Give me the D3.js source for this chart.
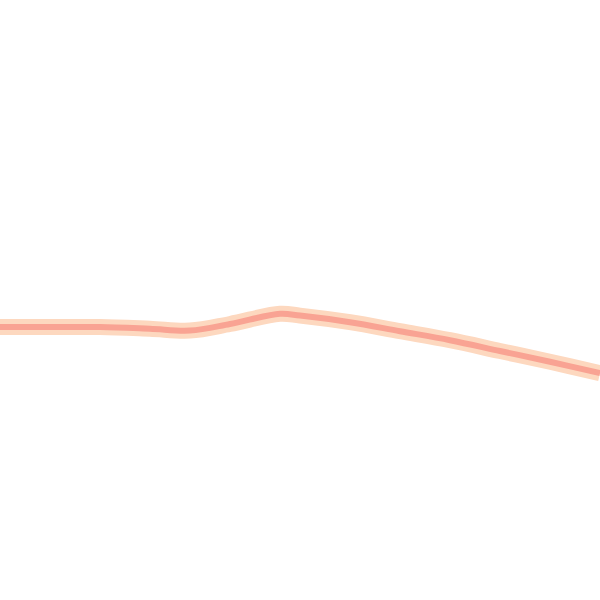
<!DOCTYPE html>
<html>
<head>
<meta charset="utf-8">
<script src="https://cdn.jsdelivr.net/npm/d3@7"></script>
<style>
  html, body { margin: 0; padding: 0; background: #fff; }
  svg { display: block; }
</style>
</head>
<body>
<svg></svg>
<script>
const width = 600;
const height = 600;

// x positions (0..12) and line level
const steps = [0, 1, 2, 3, 3.8, 4.6, 5.6, 6, 7, 8, 9, 10, 11, 12];
const levels = [45.5, 45.5, 45.5, 45.2, 44.9, 46.0, 47.7, 47.4, 46.3, 44.8, 43.3, 41.5, 39.7, 37.8];

const svg = d3.select("svg")
    .attr("width", width)
    .attr("height", height);

const x = d3.scaleLinear().domain([0, 12]).range([0, width]);
const y = d3.scaleLinear().domain([0, 100]).range([height, 0]);

const points = steps.map((s, i) => [s, levels[i]]);

const line = d3.line()
    .x(d => x(d[0]))
    .y(d => y(d[1]))
    .curve(d3.curveCatmullRom.alpha(0.5));

// soft outer band
svg.append("path")
    .datum(points)
    .attr("fill", "none")
    .attr("stroke", "#fdd8bf")
    .attr("stroke-width", 16)
    .attr("d", line);

// main line
svg.append("path")
    .datum(points)
    .attr("fill", "none")
    .attr("stroke", "#f9a393")
    .attr("stroke-width", 6)
    .attr("d", line);
</script>
</body>
</html>
